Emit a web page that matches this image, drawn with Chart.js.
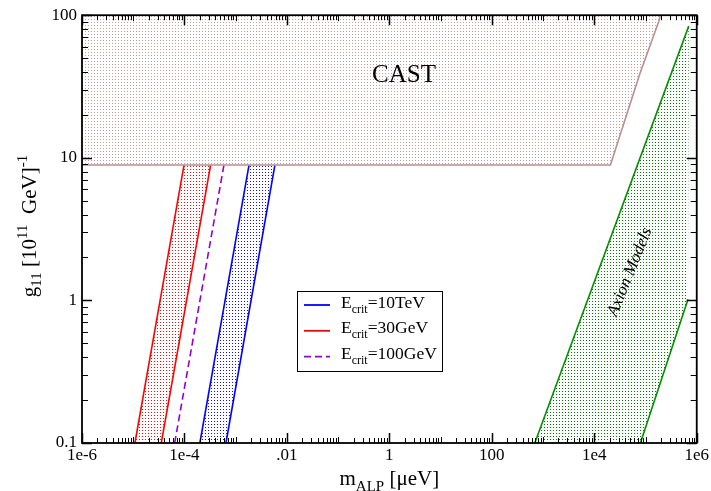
<!DOCTYPE html>
<html>
<head>
<meta charset="utf-8">
<script src="https://cdn.jsdelivr.net/npm/chart.js@4.4.1/dist/chart.umd.min.js"></script>
<style>
  html, body { margin: 0; padding: 0; background: #fff; }
</style>
</head>
<body>
<canvas id="c" width="711" height="491"></canvas>
<script>
// ---- data (m in ueV, g in 1e-11 GeV^-1) ----
const bandG   = [0.1, 8.9];            // g at the lower / upper end of each E_crit line
const red1M   = [1.08e-5, 9.8e-5];
const red2M   = [3.53e-5, 3.24e-4];
const purpleM = [6.44e-5, 5.9e-4];
const blue1M  = [2.0e-4, 1.82e-3];
const blue2M  = [6.46e-4, 5.83e-3];

const castM = [1e-6, 2.07e4, 7.7e4, 1.82e5, 1.95e5];
const castG = [8.9, 8.9, 38.6, 90.8, 100];

const green1M = [690, 6.98e5];
const green1G = [0.1, 83.8];
const green2M = [7.96e4, 6.76e5];
const green2G = [0.1, 1.02];

const xTickVals   = [1e-6, 1e-4, 1e-2, 1, 100, 1e4, 1e6];
const xTickLabels = ['1e-6', '1e-4', '.01', '1', '100', '1e4', '1e6'];
const yTickVals   = [0.1, 1, 10, 100];
const yTickLabels = ['0.1', '1', '10', '100'];

const legendLabels = ['=10TeV', '=30GeV', '=100GeV'];

const serif = "'Liberation Serif', 'Times New Roman', serif";

const canvas = document.getElementById('c');
const ctx = canvas.getContext('2d');

function dots(color) {
    const tile = document.createElement('canvas');
    tile.width = 3;
    tile.height = 3;
    const g = tile.getContext('2d');
    g.fillStyle = color;
    g.fillRect(1, 1, 1, 1);
    return ctx.createPattern(tile, 'repeat');
}

const pts = (xs, ys) => xs.map((x, i) => ({ x: x, y: ys[i] }));
// closed band between two lines
const band = (aM, aG, bM, bG) => pts(aM, aG).concat(pts(bM, bG).reverse());

function line(data, color, extra) {
    return Object.assign({
        data: data,
        showLine: true,
        borderColor: color,
        borderWidth: 1.6,
        pointRadius: 0,
        fill: false
    }, extra || {});
}

function shape(data, pattern) {
    return {
        data: data,
        showLine: true,
        borderWidth: 0,
        borderColor: 'rgba(0,0,0,0)',
        backgroundColor: pattern,
        pointRadius: 0,
        fill: 'shape'
    };
}

const redColor = '#ff0000';
const blueColor = '#0000ff';
const purpleColor = '#9400d3';
const greenColor = '#009000';
const castColor = '#bc8f8f';

const datasets = [
    line(pts(castM, castG), castColor, { fill: 'end', backgroundColor: dots('rgba(140,100,100,0.6)') }),
    shape(band(red1M, bandG, red2M, bandG), dots('rgb(230,20,20)')),
    shape(band(blue1M, bandG, blue2M, bandG), dots('rgb(20,20,220)')),
    shape(band(green1M, green1G, green2M, green2G), dots('rgb(0,130,0)')),
    line(pts(red1M, bandG), redColor),
    line(pts(red2M, bandG), redColor),
    line(pts(purpleM, bandG), purpleColor, { borderDash: [7, 4] }),
    line(pts(blue1M, bandG), blueColor),
    line(pts(blue2M, bandG), blueColor),
    line(pts(green1M, green1G), greenColor),
    line(pts(green2M, green2G), greenColor)
];

// legend entries: dataset index for the line sample
const legendSets = [7, 4, 6];

function drawRich(c, parts, x, y) {
    let cx = x;
    for (const [t, size, dy] of parts) {
        c.font = size + 'px ' + serif;
        c.fillText(t, cx, y + dy);
        cx += c.measureText(t).width;
    }
}

function richWidth(c, parts) {
    let w = 0;
    for (const [t, size] of parts) {
        c.font = size + 'px ' + serif;
        w += c.measureText(t).width;
    }
    return w;
}

// inward ticks on all four sides + frame
const frameTicks = {
    id: 'frameTicks',
    afterDatasetsDraw(chart) {
        const { ctx: c, chartArea: a, scales: { x, y } } = chart;
        c.save();
        c.strokeStyle = '#000';
        c.lineWidth = 1;
        for (let e = -6; e <= 6; e++) {
            for (let k = 1; k < 10; k++) {
                const v = k * Math.pow(10, e);
                if (v > 1.0001e6) break;
                const px = Math.round(x.getPixelForValue(v)) + 0.5;
                const len = k === 1 ? (Math.abs(e) % 2 === 0 ? 10 : 6) : 5;
                c.lineWidth = k === 1 && Math.abs(e) % 2 === 0 ? 1.5 : 1;
                c.beginPath();
                c.moveTo(px, a.bottom);
                c.lineTo(px, a.bottom - len);
                c.moveTo(px, a.top);
                c.lineTo(px, a.top + len);
                c.stroke();
            }
        }
        for (let e = -1; e <= 2; e++) {
            for (let k = 1; k < 10; k++) {
                const v = k * Math.pow(10, e);
                if (v > 100.01) break;
                const py = Math.round(y.getPixelForValue(v)) + 0.5;
                const len = k === 1 ? 10 : 6;
                c.lineWidth = k === 1 ? 1.5 : 1;
                c.beginPath();
                c.moveTo(a.left, py);
                c.lineTo(a.left + len, py);
                c.moveTo(a.right, py);
                c.lineTo(a.right - len, py);
                c.stroke();
            }
        }
        c.lineWidth = 1.8;
        c.strokeRect(a.left, a.top, a.right - a.left, a.bottom - a.top);
        c.restore();
    },
    afterDraw(chart) {
        const { ctx: c, chartArea: a } = chart;
        c.save();
        c.fillStyle = '#000';
        c.textBaseline = 'alphabetic';

        // CAST label
        c.font = '25px ' + serif;
        c.textAlign = 'center';
        c.fillText('CAST', 404, 82);

        // Axion Models label
        c.save();
        c.font = 'italic 17px ' + serif;
        c.translate(630, 272);
        c.rotate(-68 * Math.PI / 180);
        c.textBaseline = 'middle';
        c.fillText('Axion Models', 0, 0);
        c.restore();

        // legend
        c.textAlign = 'left';
        c.fillStyle = '#fff';
        c.fillRect(297, 291, 145, 80);
        c.strokeStyle = '#000';
        c.lineWidth = 1;
        c.strokeRect(297.5, 291.5, 145, 80);
        legendSets.forEach((di, i) => {
            const ds = chart.data.datasets[di];
            const base = 307.5 + i * 25.8;
            c.save();
            c.strokeStyle = ds.borderColor;
            c.lineWidth = 1.8;
            c.setLineDash(ds.borderDash || []);
            c.beginPath();
            c.moveTo(304, base - 2.5);
            c.lineTo(330, base - 2.5);
            c.stroke();
            c.restore();
            c.fillStyle = '#000';
            drawRich(c, [['E', 17.5, 0], ['crit', 12, 5], [legendLabels[i], 17.5, 0]], 341, base);
        });

        // x title
        const xParts = [['m', 21, 0], ['ALP', 15, 6], [' [\u03bceV]', 21, 0]];
        const xw = richWidth(c, xParts);
        drawRich(c, xParts, (a.left + a.right) / 2 - xw / 2, 485);

        // y title
        const yParts = [['g', 21, 0], ['11', 15, 5], [' [10', 21, 0], ['11', 15, -9], ['  GeV]', 21, 0], ['-1', 15, -9]];
        const yw = richWidth(c, yParts);
        c.save();
        c.translate(36, 226);
        c.rotate(-Math.PI / 2);
        drawRich(c, yParts, -yw / 2, 0);
        c.restore();

        c.restore();
    }
};

new Chart(ctx, {
    type: 'scatter',
    data: { datasets: datasets },
    options: {
        responsive: false,
        animation: false,
        events: [],
        layout: { padding: { left: 0, top: 14, right: 14, bottom: 0 } },
        plugins: {
            legend: { display: false },
            tooltip: { enabled: false }
        },
        scales: {
            x: {
                type: 'logarithmic',
                min: 1e-6,
                max: 1e6,
                afterBuildTicks: s => { s.ticks = xTickVals.map(v => ({ value: v })); },
                afterFit: s => { s.height = 48; },
                grid: { display: false, drawTicks: false },
                border: { display: false },
                ticks: {
                    autoSkip: false,
                    maxRotation: 0,
                    padding: 2,
                    color: '#000',
                    font: { family: serif, size: 17 },
                    callback: (v, i) => xTickLabels[i]
                }
            },
            y: {
                type: 'logarithmic',
                min: 0.1,
                max: 100,
                afterBuildTicks: s => { s.ticks = yTickVals.map(v => ({ value: v })); },
                afterFit: s => { s.width = 82; },
                grid: { display: false, drawTicks: false },
                border: { display: false },
                ticks: {
                    autoSkip: false,
                    padding: 5,
                    color: '#000',
                    font: { family: serif, size: 17 },
                    callback: (v, i) => yTickLabels[i]
                }
            }
        }
    },
    plugins: [frameTicks]
});
</script>
</body>
</html>
